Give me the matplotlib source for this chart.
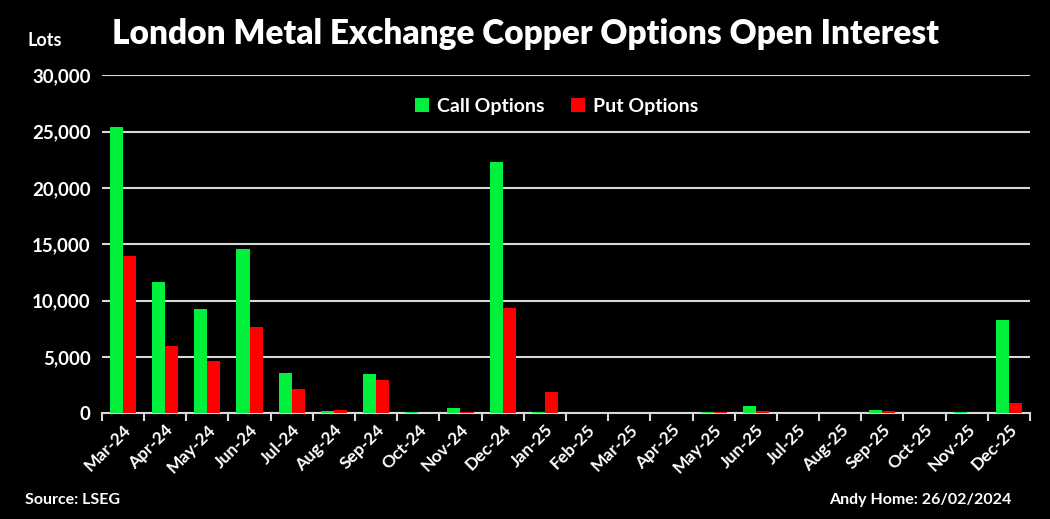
import matplotlib.pyplot as plt
import numpy as np
from matplotlib.ticker import FuncFormatter, FixedLocator

months = ["Mar-24", "Apr-24", "May-24", "Jun-24", "Jul-24", "Aug-24", "Sep-24",
          "Oct-24", "Nov-24", "Dec-24", "Jan-25", "Feb-25", "Mar-25", "Apr-25",
          "May-25", "Jun-25", "Jul-25", "Aug-25", "Sep-25", "Oct-25", "Nov-25",
          "Dec-25"]
calls = [25380, 11620, 9230, 14550, 3550, 180, 3460, 100, 450, 22270, 100, 0,
         0, 0, 80, 620, 0, 0, 300, 0, 80, 8250]
puts = [13930, 5950, 4610, 7630, 2130, 270, 2930, 50, 60, 9320, 1860, 0,
        50, 0, 60, 200, 0, 0, 200, 0, 50, 890]

plt.rcParams["font.family"] = ["Lato", "DejaVu Sans"]
plt.rcParams["font.weight"] = "bold"

fig = plt.figure(figsize=(10.5, 5.19), dpi=100, facecolor="black")
ax = fig.add_axes([0.097, 0.204, 0.884, 0.651], facecolor="black")

x = np.arange(len(months))
w = 0.31
ax.bar(x - w / 2, calls, w, color="#00f03c", label="Call Options", zorder=3)
ax.bar(x + w / 2, puts, w, color="#ff0000", label="Put Options", zorder=3)

ax.set_xlim(-0.5, len(months) - 0.5)
ax.set_ylim(0, 30000)
ax.set_yticks(range(0, 30001, 5000))
ax.yaxis.set_major_formatter(FuncFormatter(lambda v, p: f"{int(v):,}"))
ax.grid(axis="y", color="#d9d9d9", linewidth=1.5, zorder=0)
ax.tick_params(axis="y", length=0, colors="white", labelsize=13.5, pad=8)

ax.set_xticks(x)
ax.set_xticklabels(months, rotation=45, ha="right", rotation_mode="anchor")
ax.tick_params(axis="x", length=0, colors="white", labelsize=12.5, pad=6)
ax.xaxis.set_minor_locator(FixedLocator(np.arange(-0.5, len(months), 1.0)))
ax.tick_params(axis="x", which="minor", length=6, width=1.5, color="#d9d9d9")

for s in ["top", "right", "left"]:
    ax.spines[s].set_visible(False)
ax.spines["bottom"].set_color("#d9d9d9")
ax.spines["bottom"].set_linewidth(1.5)

leg = ax.legend(loc="upper center", bbox_to_anchor=(0.49, 0.985), ncol=2,
                frameon=False, fontsize=14, handlelength=0.7, handleheight=0.7,
                columnspacing=1.4, handletextpad=0.4)
for t in leg.get_texts():
    t.set_color("white")

fig.text(0.5, 0.935, "London Metal Exchange Copper Options Open Interest",
         ha="center", va="center", color="white", fontsize=24, fontweight="heavy")
fig.text(0.026, 0.922, "Lots", ha="left", va="center", color="white", fontsize=13)
fig.text(0.024, 0.036, "Source: LSEG", ha="left", va="center", color="white", fontsize=11.5)
fig.text(0.963, 0.036, "Andy Home: 26/02/2024", ha="right", va="center",
         color="white", fontsize=11.5)

fig.savefig("out.png", dpi=100, facecolor="black")
